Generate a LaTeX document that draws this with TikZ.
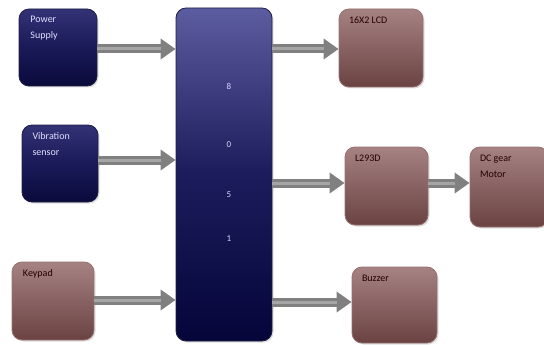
\documentclass[tikz,border=0pt]{standalone}
\usepackage{fontspec}
\setmainfont{Carlito}
\usetikzlibrary{arrows.meta,shadows}
\definecolor{navytop}{RGB}{50,50,118}
\definecolor{navymid}{RGB}{26,26,88}
\definecolor{navybot}{RGB}{10,10,60}
\definecolor{cputop}{RGB}{92,92,160}
\definecolor{cpumid}{RGB}{28,28,92}
\definecolor{cpubot}{RGB}{5,5,58}
\definecolor{browntop}{RGB}{166,130,130}
\definecolor{brownbot}{RGB}{106,66,66}
\definecolor{brownedge}{RGB}{150,112,112}
\definecolor{navyedge}{RGB}{30,30,70}
\definecolor{arrowgray}{RGB}{128,128,128}
\definecolor{arrowlight}{RGB}{165,165,165}
\tikzset{
  x=1pt, y=-1pt,
  blockbase/.style={rounded corners=10pt, line width=0.8pt, inner sep=0pt,
    drop shadow={opacity=0.25, shadow xshift=1.5pt, shadow yshift=-1.5pt}},
  navybox/.style={blockbase, draw=navyedge, top color=navytop, bottom color=navybot,
    middle color=navymid, text=white!88!blue},
  brownbox/.style={blockbase, draw=brownedge, top color=browntop, bottom color=brownbot,
    text=black!85!red},
  cpubox/.style={blockbase, draw=navyedge, top color=cputop, bottom color=cpubot,
    middle color=cpumid},
  digit/.style={text=white!85!blue, font=\fontsize{9}{10}\selectfont, inner sep=0pt},
  fat/.style={line width=9pt, draw=arrowgray,
    -{Triangle[width=20pt,length=15pt]}},
  fatlight/.style={line width=3pt, draw=arrowlight, shorten >=15pt},
}
\newcommand{\boxtext}[3]{\parbox[c][#2][t]{#1}{\fontsize{10}{16}\selectfont\vspace{5pt}#3}}
\newcommand{\fatarrow}[2]{\draw[fat] #1 -- #2; \draw[fatlight] #1 -- #2;}
\begin{document}
\begin{tikzpicture}
\useasboundingbox (0,0) rectangle (544,345);
\clip (0,0) rectangle (544,345);
% blocks
\node[navybox, minimum width=78pt, minimum height=77pt] (ps) at (58,47.5)
  {\hspace*{9pt}\boxtext{64pt}{72pt}{Power\\Supply}};
\node[navybox, minimum width=76pt, minimum height=77pt] (vib) at (60,163.5)
  {\hspace*{8pt}\boxtext{63pt}{72pt}{Vibration\\sensor}};
\node[brownbox, minimum width=82pt, minimum height=78pt] (key) at (53,301)
  {\hspace*{9pt}\boxtext{69pt}{72pt}{Keypad}};
\node[cpubox, minimum width=96pt, minimum height=333pt] (cpu) at (224,174.5) {};
\node[brownbox, minimum width=84pt, minimum height=78pt] (lcd) at (381,48)
  {\hspace*{8pt}\boxtext{72pt}{72pt}{16X2 LCD}};
\node[brownbox, minimum width=83pt, minimum height=78pt] (l293) at (386.5,186)
  {\hspace*{8pt}\boxtext{71pt}{72pt}{L293D}};
\node[brownbox, minimum width=78pt, minimum height=80pt] (mot) at (509,187)
  {\hspace*{8pt}\boxtext{66pt}{74pt}{DC gear\\Motor}};
\node[brownbox, minimum width=85pt, minimum height=76pt] (buz) at (394.5,305)
  {\hspace*{8pt}\boxtext{73pt}{70pt}{Buzzer}};
% digits
\node[digit] (d8) at (229,86) {8};
\node[digit] (d0) at (229,145) {0};
\node[digit] (d5) at (229,195) {5};
\node[digit] (d1) at (229,239) {1};
% arrows
\fatarrow{([yshift=-1.5pt]ps.east)}{([yshift=-1.5pt]ps.east -| cpu.west)}
\fatarrow{([yshift=3.5pt]vib.east)}{([yshift=3.5pt]vib.east -| cpu.west)}
\fatarrow{([yshift=1pt]key.east)}{([yshift=1pt]key.east -| cpu.west)}
\fatarrow{([yshift=-1pt]cpu.east |- lcd.west)}{([yshift=-1pt]lcd.west)}
\fatarrow{([yshift=3pt]cpu.east |- l293.west)}{([yshift=3pt]l293.west)}
\fatarrow{([yshift=3pt]l293.east)}{([yshift=3pt]l293.east -| mot.west)}
\fatarrow{([yshift=3pt]cpu.east |- buz.west)}{([yshift=3pt]buz.west)}
\end{tikzpicture}
\end{document}
